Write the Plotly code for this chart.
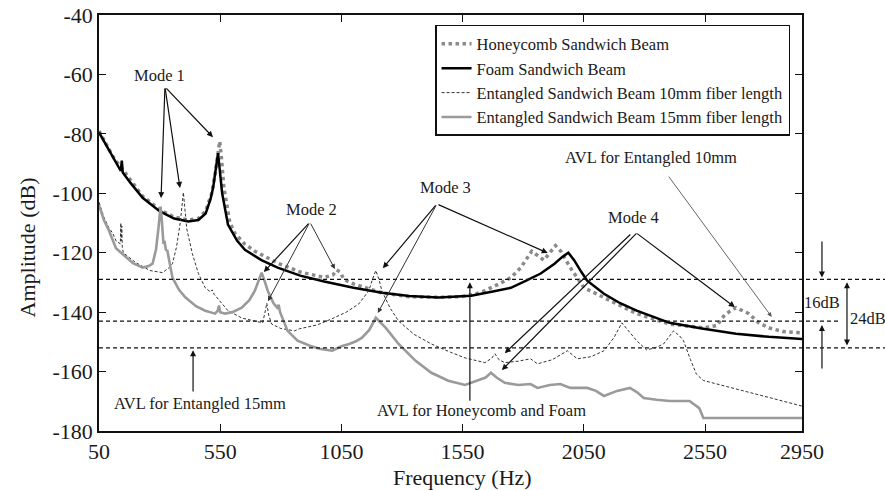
import plotly.graph_objects as go

# ---------------- data ----------------
honey_f = [50, 80, 110, 148, 230, 300, 360, 418, 460, 490, 515, 530, 540, 548, 555, 565, 590, 611, 650, 693,
           787, 880, 979, 1015, 1030, 1045, 1060, 1100, 1217, 1330, 1450, 1540, 1600, 1642, 1700, 1749, 1790,
           1818, 1835, 1860, 1885, 1910, 1933, 1955, 1994, 2051, 2133, 2268, 2404, 2543, 2600, 2620, 2637,
           2678, 2731, 2770, 2813, 2870, 2950]
honey_a = [-79, -83.5, -88, -92, -101, -105.5, -108, -109, -108.5, -106, -100, -93, -86, -82.5, -88, -98, -110,
           -113.5, -117, -119.5, -123.5, -126.5, -128.3, -127.5, -125.8, -126.5, -129, -130.5, -133.5, -134.8,
           -135, -134.8, -134, -132.8, -130.5, -128.4, -125, -121.5, -119.5, -121, -122.5, -120, -117.6, -119.5,
           -125, -131.8, -135, -140.5, -144, -145.3, -144.5, -142, -140.5, -138.5, -140.5, -143.5, -145.3,
           -146.5, -147]

foam_f = [50, 80, 110, 140, 144, 148, 180, 230, 300, 360, 418, 460, 490, 510, 521, 530, 537, 541, 548, 558, 582,
          620, 652, 720, 787, 880, 979, 1100, 1217, 1330, 1450, 1585, 1680, 1749, 1810, 1872, 1929, 1960, 1986,
          2010, 2040, 2064, 2133, 2200, 2268, 2404, 2543, 2678, 2813, 2950]
foam_a = [-79.5, -84, -88.5, -92.5, -89, -93, -96.5, -101.5, -106, -108.5, -109.5, -109, -106.8, -102, -98, -93,
          -87.5, -86.5, -92, -100, -110.5, -116, -119, -122.5, -125, -127.7, -129.7, -131.8, -133.5, -134.6,
          -135.1, -134.5, -133, -131.8, -129.5, -127, -123.7, -121.5, -120, -122.5, -126.5, -129.4, -133.8,
          -137, -139.5, -143.6, -145.6, -147.3, -148.3, -149]

ent10_f = [50, 70, 90, 107, 120, 138, 140, 142, 144, 146, 150, 201, 260, 312, 340, 353, 370, 385, 394, 398, 403,
           412, 435, 460, 488, 510, 517, 525, 582, 640, 693, 725, 735, 742, 750, 762, 800, 856, 877, 950, 1012,
           1070, 1122, 1163, 1180, 1192, 1205, 1217, 1250, 1286, 1350, 1421, 1500, 1560, 1642, 1670, 1683, 1700,
           1724, 1780, 1830, 1859, 1920, 1982, 2023, 2080, 2133, 2175, 2207, 2240, 2268, 2309, 2345, 2379,
           2420, 2445, 2461, 2490, 2514, 2543, 2950]
ent10_a = [-103, -108, -111.5, -113.5, -116, -117, -110, -116, -111, -118, -120, -123.3, -126, -126.7, -125,
           -123.7, -118, -110, -103, -99.7, -104, -112, -120.3, -127, -131.8, -133.2, -132.5, -134, -139.5,
           -142, -143, -143.6, -140, -137, -141, -144, -145.5, -146.3, -145.6, -144.3, -142.2, -140, -137.2,
           -132.8, -128.5, -126, -129, -132.8, -138.5, -143, -147.5, -150.7, -153.5, -155.4, -157, -155.5,
           -154, -156, -157, -156.5, -155.7, -157.4, -156, -153, -155.7, -155, -153, -148.5, -143.6, -147,
           -149.6, -152.7, -152, -150.7, -146.3, -148, -149.6, -156, -160.8, -163, -171.6]

ent15_f = [50, 70, 91, 120, 148, 190, 230, 255, 271, 285, 295, 304, 309, 313, 316, 320, 326, 332, 340, 353, 380,
           406, 450, 488, 529, 540, 545, 550, 570, 600, 639, 670, 693, 710, 721, 733, 746, 770, 785, 791, 797,
           828, 869, 920, 959, 1012, 1050, 1082, 1110, 1135, 1165, 1192, 1210, 1233, 1286, 1356, 1421, 1491,
           1560, 1613, 1645, 1667, 1690, 1724, 1780, 1830, 1859, 1910, 1953, 1994, 2064, 2100, 2133, 2187,
           2240, 2270, 2297, 2350, 2404, 2486, 2526, 2543, 2950]
ent15_a = [-104, -109, -112.5, -118.5, -120.5, -123.5, -125, -124.5, -123.7, -119, -112, -104.5, -109, -115,
           -117, -116, -119, -119.3, -123, -128.4, -132.5, -135, -138, -139.5, -140.5, -139.5, -137.8, -140,
           -140.5, -140, -138.5, -136, -132.8, -129, -126.7, -129.5, -132.8, -137, -138.5, -137.5, -140,
           -146.3, -149.6, -151.3, -152.3, -153, -151.5, -150.7, -149.8, -148.6, -146, -141.9, -143.5, -145.3,
           -150.7, -156.4, -160.4, -163.1, -164.5, -163.1, -162, -160.4, -162, -163.8, -164.5, -164.2, -165.5,
           -164.5, -164.2, -165.5, -165.5, -166.5, -168.2, -166.5, -165.5, -167, -168.9, -169.5, -169.9,
           -169.9, -172.3, -175.6, -175.6]

series_names = ["Honeycomb Sandwich Beam", "Foam Sandwich Beam",
                "Entangled Sandwich Beam 10mm fiber length", "Entangled Sandwich Beam 15mm fiber length"]

avl_levels = [-129, -143, -152]          # AVL reference lines (dB)
x_ticks = [50, 550, 1050, 1550, 2050, 2550, 2950]
y_ticks = [-40, -60, -80, -100, -120, -140, -160, -180]

FONT = "Liberation Serif, 'Times New Roman', Times, serif"
TXT = "#1a1a1a"

fig = go.Figure()
fig.add_trace(go.Scatter(x=honey_f, y=honey_a, mode="lines", name=series_names[0],
                         line=dict(color="#8a8a8a", width=3.5, dash="dot")))
fig.add_trace(go.Scatter(x=foam_f, y=foam_a, mode="lines", name=series_names[1],
                         line=dict(color="#000000", width=2.5)))
fig.add_trace(go.Scatter(x=ent10_f, y=ent10_a, mode="lines", name=series_names[2],
                         line=dict(color="#333333", width=1, dash="3px,2px")))
fig.add_trace(go.Scatter(x=ent15_f, y=ent15_a, mode="lines", name=series_names[3],
                         line=dict(color="#9a9a9a", width=2.6)))

# AVL dashed lines (extend past the right axis)
line_ends = [1.118, 1.054, 1.118]
for lvl, xe in zip(avl_levels, line_ends):
    fig.add_shape(type="line", xref="paper", yref="y", x0=0, x1=xe, y0=lvl, y1=lvl,
                  line=dict(color="#111", width=1.2, dash="4px,3px"))

ann = []
def label(text, x, y):
    ann.append(dict(text=text, x=x, y=y, xref="x", yref="y", showarrow=False,
                    xanchor="center", yanchor="middle",
                    font=dict(family=FONT, size=16.5, color=TXT)))

def arrow(tx, ty, hx, hy, color="#111", width=1.2):
    ann.append(dict(text="", x=hx, y=hy, xref="x", yref="y", ax=tx, ay=ty, axref="x", ayref="y",
                    showarrow=True, arrowhead=2, arrowsize=1, arrowwidth=width, arrowcolor=color))

label("Mode 1", 301, -60.2)
arrow(322, -64.2, 306, -101.6)
arrow(322, -64.2, 384, -98.2)
arrow(322, -64.2, 520, -81.1)

label("Mode 2", 928, -105.6)
arrow(920, -109.7, 730, -126.5)
arrow(920, -109.7, 747, -136.3, color="#333", width=1)
arrow(920, -109.7, 1023, -125.5, color="#333", width=1)

label("Mode 3", 1481, -97.9)
arrow(1444, -103.6, 1221, -125.2)
arrow(1444, -103.6, 1200, -140.3, color="#333", width=1)
arrow(1444, -103.6, 1901, -120.1)

label("Mode 4", 2256, -108)
arrow(2248, -113.4, 1724, -153.8)
arrow(2273, -113.0, 1712, -159.5)
arrow(2264, -113.2, 2673, -138.3)

label("AVL for Entangled 10mm", 2326, -88.1)
arrow(2396, -93.9, 2825, -141.6, color="#555", width=0.9)

label("AVL for Entangled 15mm", 466, -170.6)
arrow(438, -167.2, 438, -152.8)

label("AVL for Honeycomb and Foam", 1629, -173)
arrow(1580, -170.3, 1580, -129.9)

# right-hand dB span markers (outside the plot area)
def parrow(xp, ty, hy, side="end"):
    ann.append(dict(text="", xref="paper", yref="y", x=xp, y=hy, axref="pixel", ax=0,
                    ayref="y", ay=ty, showarrow=True, arrowhead=2, arrowside=side,
                    arrowsize=1, arrowwidth=1.2, arrowcolor="#111"))

parrow(1.0284, -115.7, -128.3)
parrow(1.0284, -159.5, -144.3)
parrow(1.064, -151.7, -129.9, side="end+start")
ann.append(dict(text="16dB", xref="paper", yref="y", x=1.0284, y=-136.6, showarrow=False,
                xanchor="center", yanchor="middle",
                font=dict(family=FONT, size=16.5, color=TXT)))
ann.append(dict(text="24dB", xref="paper", yref="y", x=1.094, y=-142, showarrow=False,
                xanchor="center", yanchor="middle",
                font=dict(family=FONT, size=16.5, color=TXT)))

# axis titles
ann.append(dict(text="Frequency (Hz)", xref="paper", yref="paper", x=0.517, y=-0.1106,
                xanchor="center", yanchor="middle", showarrow=False,
                font=dict(family=FONT, size=22, color=TXT)))
ann.append(dict(text="Amplitude (dB)", xref="paper", yref="paper", x=-0.1017, y=0.44,
                xanchor="center", yanchor="middle", textangle=-90, showarrow=False,
                font=dict(family=FONT, size=22, color=TXT)))

fig.update_layout(
    width=885, height=490,
    margin=dict(l=99, r=83, t=15, b=59),
    paper_bgcolor="white", plot_bgcolor="white",
    font=dict(family=FONT, color=TXT),
    annotations=ann,
    showlegend=True,
    legend=dict(x=0.478, y=0.976, xanchor="left", yanchor="top",
                bgcolor="white", bordercolor="#111", borderwidth=1.5,
                font=dict(family=FONT, size=16.5, color=TXT), itemwidth=30,
                tracegroupgap=0),
)
fig.update_xaxes(range=[50, 2950], tickvals=x_ticks, ticktext=[str(v) for v in x_ticks],
                 ticks="inside", ticklen=7, tickwidth=1.2, tickcolor="#111",
                 showline=True, linecolor="#111", linewidth=1.5, mirror="ticks",
                 showgrid=False, zeroline=False, automargin=False,
                 tickfont=dict(family=FONT, size=22, color=TXT))
fig.update_yaxes(range=[-180, -40], tickvals=y_ticks, ticktext=[str(v) for v in y_ticks],
                 ticks="inside", ticklen=7, tickwidth=1.2, tickcolor="#111",
                 showline=True, linecolor="#111", linewidth=1.5, mirror="ticks",
                 showgrid=False, zeroline=False, automargin=False,
                 tickfont=dict(family=FONT, size=22, color=TXT))

# remove the default 8px page margin so the figure sits at the window's top-left corner
fig.write_html("out.html", config={"displayModeBar": False},
               post_script="document.body.style.margin='0';document.body.style.overflow='hidden';")
